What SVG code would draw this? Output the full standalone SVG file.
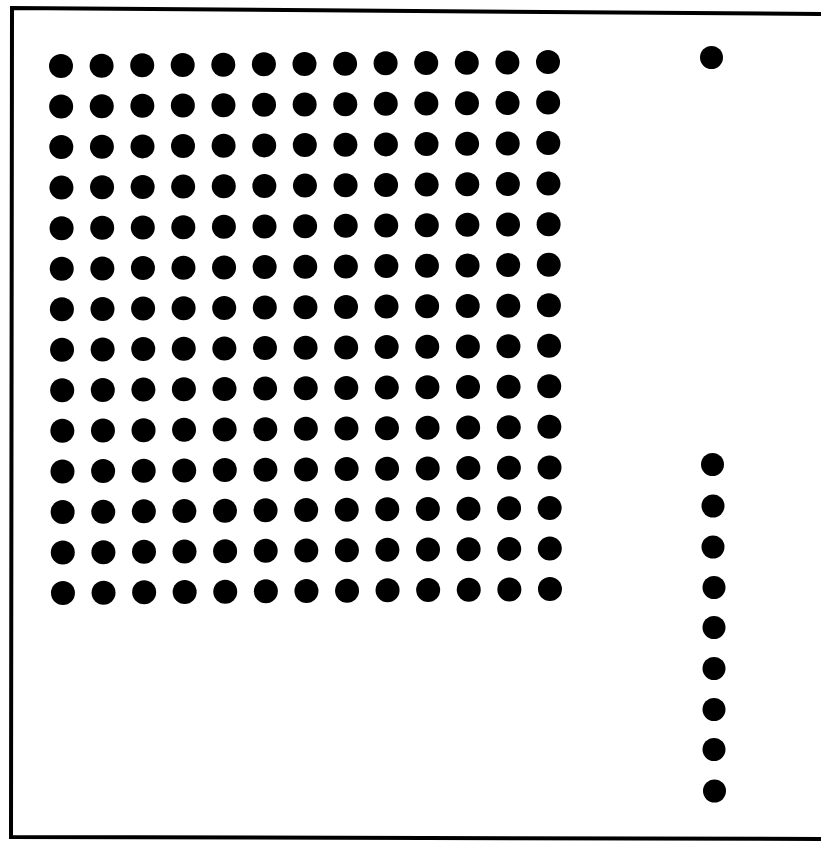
<svg xmlns="http://www.w3.org/2000/svg" xmlns:xlink="http://www.w3.org/1999/xlink" width="821" height="842" viewBox="0 0 821 842">
<style>
.frame{fill:none;stroke:#000;stroke-width:4;stroke-linejoin:miter}
.dot{fill:#000}
</style>
<defs>
<g id="row">
<circle class="dot" cx="0" cy="0" r="12"/>
<circle class="dot" cx="40.6" cy="-0.3" r="12"/>
<circle class="dot" cx="81.2" cy="-0.7" r="12"/>
<circle class="dot" cx="121.7" cy="-1" r="12"/>
<circle class="dot" cx="162.3" cy="-1.3" r="12"/>
<circle class="dot" cx="202.9" cy="-1.7" r="12"/>
<circle class="dot" cx="243.5" cy="-2" r="12"/>
<circle class="dot" cx="284.1" cy="-2.3" r="12"/>
<circle class="dot" cx="324.6" cy="-2.7" r="12"/>
<circle class="dot" cx="365.2" cy="-3" r="12"/>
<circle class="dot" cx="405.8" cy="-3.3" r="12"/>
<circle class="dot" cx="446.4" cy="-3.6" r="12"/>
<circle class="dot" cx="487" cy="-4" r="12"/>
</g>
</defs>
<rect width="821" height="842" fill="#fff"/>
<polygon class="frame" points="12,8 825,14 825,839 11,837"/>
<g id="grid">
<use xlink:href="#row" transform="translate(61,66)"/>
<use xlink:href="#row" transform="translate(61.15,106.54)"/>
<use xlink:href="#row" transform="translate(61.3,147.08)"/>
<use xlink:href="#row" transform="translate(61.45,187.62)"/>
<use xlink:href="#row" transform="translate(61.6,228.16)"/>
<use xlink:href="#row" transform="translate(61.75,268.7)"/>
<use xlink:href="#row" transform="translate(61.9,309.24)"/>
<use xlink:href="#row" transform="translate(62.05,349.78)"/>
<use xlink:href="#row" transform="translate(62.2,390.32)"/>
<use xlink:href="#row" transform="translate(62.35,430.86)"/>
<use xlink:href="#row" transform="translate(62.5,471.4)"/>
<use xlink:href="#row" transform="translate(62.65,511.94)"/>
<use xlink:href="#row" transform="translate(62.8,552.48)"/>
<use xlink:href="#row" transform="translate(62.95,593.02)"/>
</g>
<g id="column">
<circle class="dot" cx="711.5" cy="57.5" r="11.5"/>
<circle class="dot" cx="712.5" cy="464.5" r="11.5"/>
<circle class="dot" cx="713" cy="506" r="11.5"/>
<circle class="dot" cx="713" cy="547" r="11.5"/>
<circle class="dot" cx="714" cy="587.5" r="11.5"/>
<circle class="dot" cx="714" cy="627.5" r="11.5"/>
<circle class="dot" cx="714" cy="668.5" r="11.5"/>
<circle class="dot" cx="714" cy="709.5" r="11.5"/>
<circle class="dot" cx="714" cy="749.5" r="11.5"/>
<circle class="dot" cx="714.5" cy="791" r="11.5"/>
</g>
</svg>
